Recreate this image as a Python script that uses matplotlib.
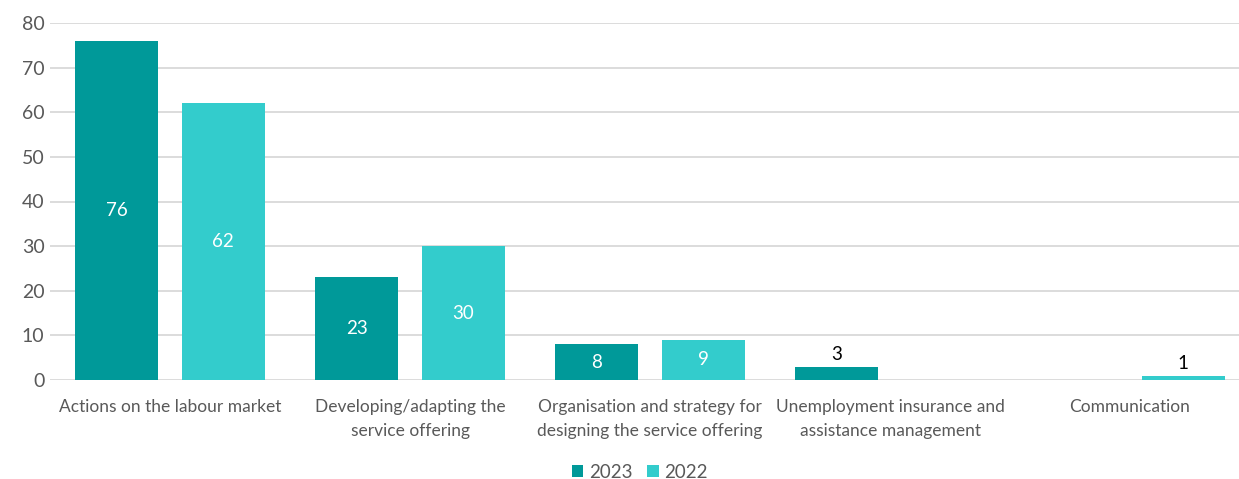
import matplotlib
matplotlib.use("Agg")
import matplotlib.pyplot as plt
import numpy as np

categories = [
    "Actions on the labour market",
    "Developing/adapting the\nservice offering",
    "Organisation and strategy for\ndesigning the service offering",
    "Unemployment insurance and\nassistance management",
    "Communication",
]
values_2023 = [76, 23, 8, 3, 0]
values_2022 = [62, 30, 9, 0, 1]
series = [("2023", values_2023, "#009999"), ("2022", values_2022, "#33CCCC")]

plt.rcParams["font.family"] = ["Lato", "DejaVu Sans"]

fig = plt.figure(figsize=(12.39, 4.79), dpi=100)
ax = fig.add_axes([50 / 1239, 1 - 380 / 479, 1200 / 1239, (380 - 23) / 479])

x = np.arange(len(categories))
width = 0.346
offset = 0.221

for k, (name, vals, color) in enumerate(series):
    pos = x + (offset if k else -offset)
    bars = ax.bar(pos, vals, width=width, color=color, label=name, zorder=3)
    for b, v in zip(bars, vals):
        if v == 0:
            continue
        cx = b.get_x() + b.get_width() / 2
        if v >= 5:
            ax.text(cx, v / 2, str(v), ha="center", va="center",
                    color="white", fontsize=13.5, zorder=4)
        else:
            ax.text(cx, v + 0.8, str(v), ha="center", va="bottom",
                    color="black", fontsize=13.5, zorder=4)

ax.set_xlim(-0.5, len(categories) - 0.5)
ax.set_ylim(0, 80)
ax.set_yticks(range(0, 81, 10))
ax.set_xticks(x)
ax.set_xticklabels(categories, fontsize=12.5, color="#595959", linespacing=1.55)
ax.tick_params(axis="y", labelsize=14, labelcolor="#595959", length=0, pad=4)
ax.tick_params(axis="x", length=0, pad=14)
ax.grid(axis="y", color="#d9d9d9", linewidth=1.3, zorder=0)
for s in ax.spines.values():
    s.set_visible(False)

fig.legend(loc="center", bbox_to_anchor=(640 / 1239, 1 - 472 / 479), ncol=2,
           frameon=False, fontsize=13.5, handlelength=0.6, handleheight=0.6,
           handletextpad=0.3, columnspacing=0.8, labelcolor="#595959")

fig.savefig("out.png", dpi=100)
